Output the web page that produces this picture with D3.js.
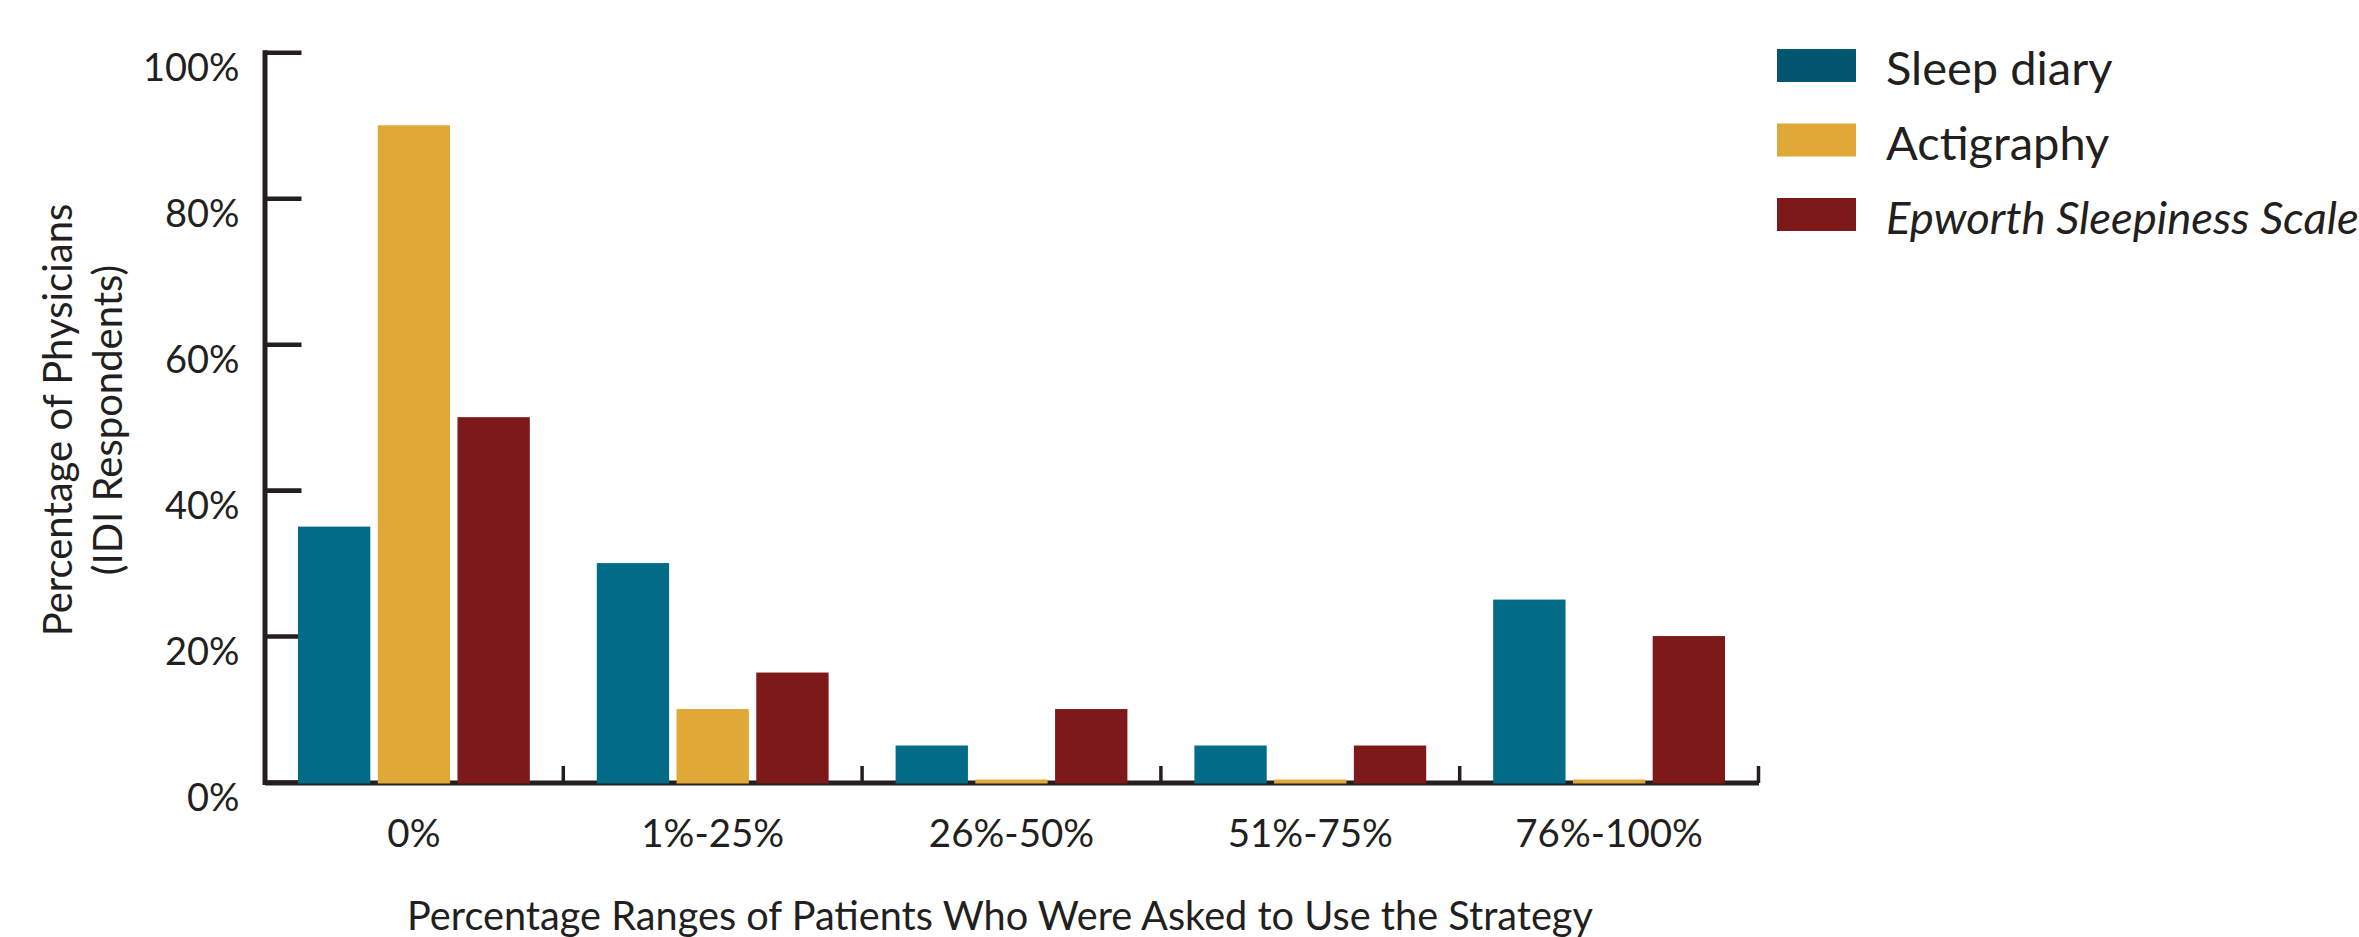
<!DOCTYPE html>
<html>
<head>
<meta charset="utf-8">
<script src="https://cdn.jsdelivr.net/npm/d3@7"></script>
<style>
  html, body { margin: 0; padding: 0; background: #ffffff; }
  svg { display: block; }
  text { font-family: Lato, "Open Sans", sans-serif; fill: #231f20; }
</style>
</head>
<body>
<svg id="chart" width="2359" height="937"></svg>
<script>
// Survey data: share of physicians (%) by range of patients asked to use each strategy
const categories = ["0%", "1%-25%", "26%-50%", "51%-75%", "76%-100%"];
const seriesNames = ["Sleep diary", "Actigraphy", "Epworth Sleepiness Scale"];
const sleepDiary = [35, 30, 5, 5, 25];
const actigraphy = [90, 10, 0, 0, 0];
const epworth = [50, 15, 10, 5, 20];
const yTicks = [0, 20, 40, 60, 80, 100];
const yTitleLines = ["Percentage of Physicians", "(IDI Respondents)"];
const xTitle = "Percentage Ranges of Patients Who Were Asked to Use the Strategy";

const seriesValues = [sleepDiary, actigraphy, epworth];
const barColors = ["#016b88", "#dfa837", "#7d1a19"];
const swatchColors = ["#03566f", "#dfa837", "#7d1a19"];
const ink = "#231f20";

const svg = d3.select("#chart");

const plotLeft = 264.5, plotRight = 1758.5, plotTop = 52.3, plotBottom = 782;

const y = d3.scaleLinear().domain([0, 100]).range([plotBottom, plotTop]);
const x0 = d3.scaleBand().domain(categories).range([plotLeft, plotRight]).padding(0);
const x1 = d3.scaleBand().domain(seriesNames)
  .range([0, x0.bandwidth()]).paddingInner(0.093).paddingOuter(0.42);

// Baseline (x axis domain) with category labels under each group
const xAxis = d3.axisBottom(x0).tickSize(0).tickSizeOuter(0).tickPadding(36);
const gx = svg.append("g").attr("transform", `translate(0,${plotBottom + 0.5})`).call(xAxis);
gx.select(".domain").attr("stroke", ink).attr("stroke-width", 5);
gx.selectAll(".tick text")
  .attr("fill", ink).attr("font-size", 38.5).attr("font-family", "Lato, sans-serif")
  .attr("dy", "0.74em");

// Short upright ticks at group boundaries
const boundaries = categories.slice(1).map(c => x0(c)).concat([x0(categories[categories.length - 1]) + x0.bandwidth()]);
svg.append("g").selectAll("line").data(boundaries).join("line")
  .attr("x1", d => d).attr("x2", d => d)
  .attr("y1", y(0) + 1).attr("y2", y(0) - 16)
  .attr("stroke", ink).attr("stroke-width", 3.5);

// Y axis with inward ticks and labels hanging below each tick
const yAxis = d3.axisLeft(y).tickValues(yTicks).tickFormat(d => d + "%")
  .tickSizeInner(-37).tickSizeOuter(0).tickPadding(25);
const gy = svg.append("g").attr("transform", `translate(${plotLeft},0)`).call(yAxis);
gy.select(".domain").attr("stroke", ink).attr("stroke-width", 5).attr("stroke-linecap", "square");
gy.selectAll(".tick line").attr("stroke", ink).attr("stroke-width", 4.6);
gy.selectAll(".tick text")
  .attr("fill", ink).attr("font-size", 38).attr("font-family", "Lato, sans-serif")
  .attr("dy", "0.74em");

// Bars
const groups = svg.append("g").selectAll("g").data(categories).join("g")
  .attr("transform", c => `translate(${x0(c)},0)`);
groups.selectAll("rect")
  .data((c, i) => seriesNames.map((s, k) => ({ s, k, v: seriesValues[k][i] })))
  .join("rect")
  .attr("x", d => x1(d.s))
  .attr("width", x1.bandwidth())
  .attr("y", d => Math.min(y(d.v), y(0) + 1.5 - 4))
  .attr("height", d => Math.max(y(0) + 1.5 - y(d.v), 4))
  .attr("fill", d => barColors[d.k]);

// Axis titles
const yTitle = svg.append("text")
  .attr("transform", "translate(0,420) rotate(-90)")
  .attr("text-anchor", "middle").attr("font-size", 40);
yTitle.selectAll("tspan").data(yTitleLines).join("tspan")
  .attr("x", 0).attr("y", (d, i) => 72 + i * 50)
  .text(d => d);

svg.append("text")
  .attr("x", 1000).attr("y", 930)
  .attr("text-anchor", "middle").attr("font-size", 39.7)
  .text(xTitle);

// Legend
const legend = svg.append("g").selectAll("g").data(seriesNames).join("g")
  .attr("transform", (d, i) => `translate(1777,${49 + i * 74.5})`);
legend.append("rect")
  .attr("width", 79).attr("height", 33)
  .attr("fill", (d, i) => swatchColors[i]);
legend.append("text")
  .attr("x", 109).attr("y", 36)
  .attr("font-size", (d, i) => i === 2 ? 45.5 : 47)
  .attr("font-style", (d, i) => i === 2 ? "italic" : "normal")
  .text(d => d);
</script>
</body>
</html>
